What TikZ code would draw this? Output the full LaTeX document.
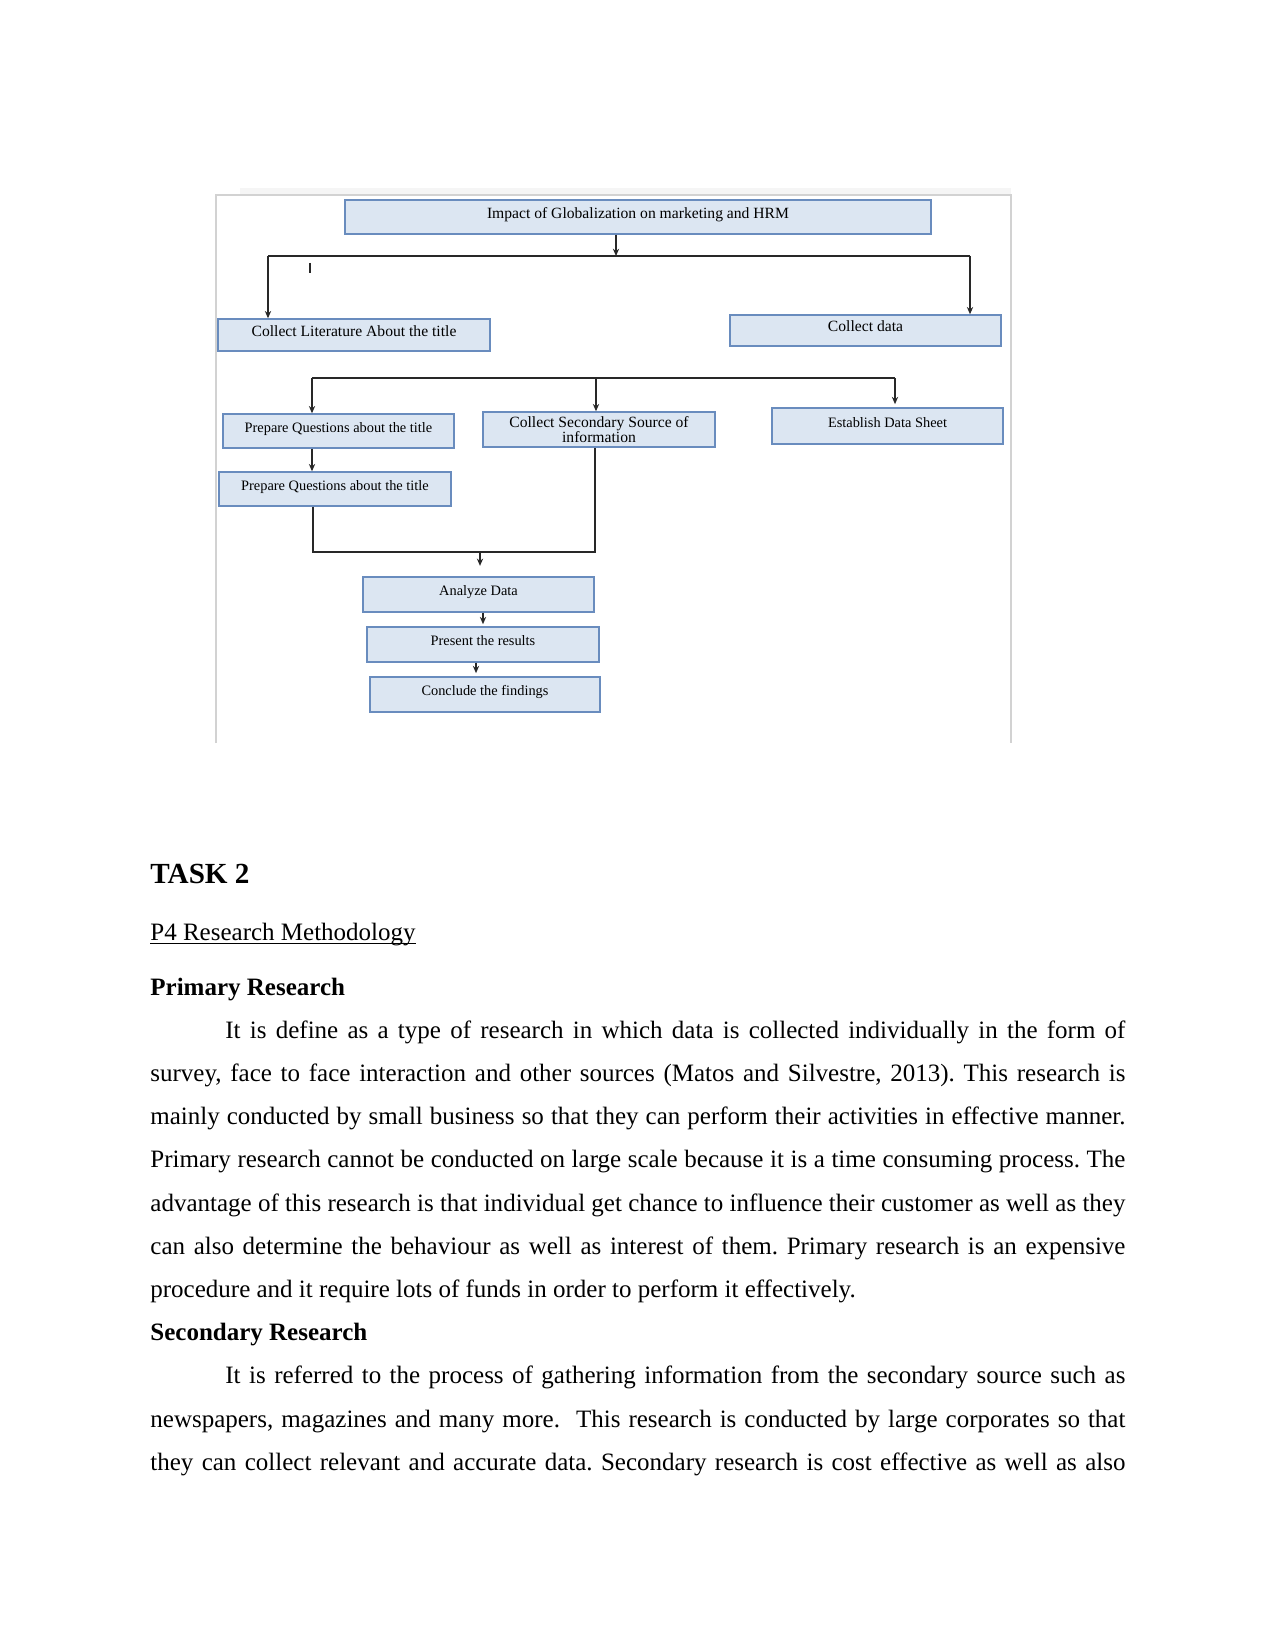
\documentclass[tikz,border=0pt]{standalone}
\usepackage{fontspec}
\setmainfont{Liberation Serif}
\usetikzlibrary{arrows.meta}

\definecolor{boxfill}{RGB}{220,230,242}
\definecolor{boxline}{RGB}{105,140,190}
\definecolor{framegray}{RGB}{210,210,210}
\definecolor{linegray}{RGB}{40,40,40}
\newcommand{\pxu}{0.48pt}

\begin{document}
\frenchspacing
\begin{tikzpicture}[x=0.48pt,y=-0.48pt,
  box/.style={draw=boxline, fill=boxfill, line width=0.7pt, inner sep=0pt, align=center, font=\fontsize{7.5}{8}\selectfont},
  lbl/.style={box, text height=5.5pt, text depth=4.3pt},
  small/.style={font=\fontsize{6.9}{8}\selectfont},
  flow/.style={draw=linegray, line width=0.75pt},
  arr/.style={flow, -{Stealth[length=3.5pt,width=3pt]}},
  para/.style={anchor=base west, inner sep=0pt, text width=468pt, align=justify, font=\fontsize{12}{20.74}\selectfont}]
\useasboundingbox[fill=white] (0,0) rectangle (1275,1651);

% frame of the figure
\fill[black!4] (240,188) rectangle (1011,194);
\draw[framegray, line width=1.4pt] (216,743) -- (216,195) -- (1011,195) -- (1011,743);

% boxes
\node[lbl, minimum width=586*\pxu, minimum height=34*\pxu] (impact) at (638,217) {Impact of Globalization on marketing and HRM};
\node[lbl, minimum width=272*\pxu, minimum height=32*\pxu] (lit) at (354,335) {Collect Literature About the title};
\node[lbl, minimum width=271*\pxu, minimum height=31*\pxu] (data) at (865.5,330.5) {Collect data};
\node[lbl, small, minimum width=231*\pxu, minimum height=34*\pxu] (ques1) at (338.5,431) {Prepare Questions about the title};
\node[box, font={\fontsize{7.5}{7}\selectfont\lineskiplimit=-5pt\relax}, minimum width=232*\pxu, minimum height=35*\pxu] (second) at (599,429.5) {Collect Secondary Source of\\information};
\node[lbl, small, minimum width=231*\pxu, minimum height=36*\pxu] (sheet) at (887.5,426) {Establish Data Sheet};
\node[lbl, small, minimum width=232*\pxu, minimum height=34*\pxu] (ques2) at (335,489) {Prepare Questions about the title};
\node[lbl, small, minimum width=231*\pxu, minimum height=35*\pxu] (analyze) at (478.5,594.5) {Analyze Data};
\node[lbl, small, minimum width=232*\pxu, minimum height=35*\pxu] (present) at (483,644.5) {Present the results};
\node[lbl, small, minimum width=230*\pxu, minimum height=35*\pxu] (conclude) at (485,694.5) {Conclude the findings};

% first split
\coordinate (j1) at (616,256);
\coordinate (l1) at (268,256);
\coordinate (r1) at (970,256);
\draw[arr] (impact.south -| j1) -- (j1);
\draw[flow] (l1) -- (r1);
\draw[arr] (l1) -- (lit.north -| l1);
\draw[arr] (r1) -- (data.north -| r1);
\draw[flow] (310,263) -- (310,273);

% second split
\coordinate (l2) at (312,378);
\coordinate (m2) at (596,378);
\coordinate (r2) at (895,378);
\draw[flow] (l2) -- (r2);
\draw[arr] (l2) -- (ques1.north -| l2);
\draw[arr] (m2) -- (second.north -| m2);
\draw[arr] (r2) -- ([yshift=1.5pt]sheet.north -| r2);
\draw[arr] (ques1.south -| l2) -- (ques2.north -| l2);

% join
\coordinate (b1) at (313,552);
\coordinate (b2) at (595,552);
\coordinate (j4) at (480,552);
\draw[flow] (ques2.south -| b1) -- (b1) -- (b2) -- (second.south -| b2);
\draw[arr, shorten >=5pt] (j4) -- (analyze.north -| j4);
\coordinate (j5) at (483,612);
\coordinate (j6) at (476,662);
\draw[arr, shorten >=1pt] (analyze.south -| j5) -- (present.north -| j5);
\draw[arr, shorten >=1.5pt] (present.south -| j6) -- (conclude.north -| j6);

% text of the page
\node[anchor=base west, inner sep=0pt, font=\fontsize{14}{16}\selectfont\bfseries] (task) at (150,883) {TASK 2};
\node[anchor=base west, inner sep=0pt, font=\fontsize{12}{14}\selectfont] (method) at (150,940) {P4 Research Methodology};
\draw[line width=0.5pt] ([yshift=-1.6pt]method.base west) -- ([yshift=-1.6pt]method.base east);
\node[para] (body) at (150,995) {\hyphenpenalty=10000
\textbf{Primary Research}\par
\hspace*{36pt}It is define as a type of research in which data is collected individually in the form of\linebreak
survey, face to face interaction and other sources (Matos and Silvestre, 2013). This research is\linebreak
mainly conducted by small business so that they can perform their activities in effective manner.\linebreak
Primary research cannot be conducted on large scale because it is a time consuming process. The\linebreak
advantage of this research is that individual get chance to influence their customer as well as they\linebreak
can also determine the behaviour as well as interest of them. Primary research is an expensive\linebreak
procedure and it require lots of funds in order to perform it effectively.\par
\textbf{Secondary Research}\par
\hspace*{36pt}It is referred to the process of gathering information from the secondary source such as\linebreak
newspapers, magazines and many more.\ \ This research is conducted by large corporates so that\linebreak
they can collect relevant and accurate data. Secondary research is cost effective as well as also\parfillskip=0pt\par};
\end{tikzpicture}
\end{document}
